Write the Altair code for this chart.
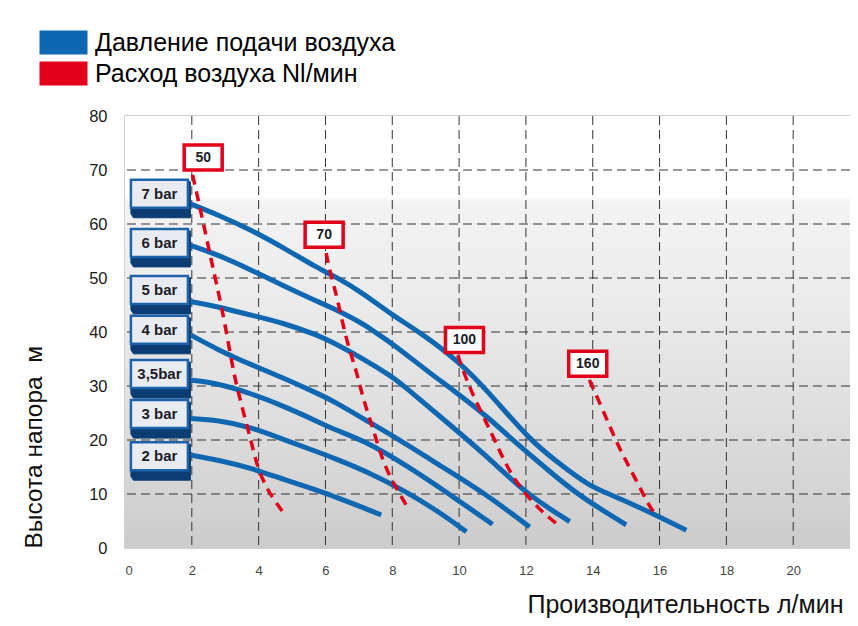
import altair as alt
import pandas as pd

FONT = "Liberation Sans, Arial, sans-serif"
BLUE = "#0f67b1"
RED = "#e2001a"
KIND_P = "Давление подачи воздуха"
KIND_F = "Расход воздуха Nl/мин"

# ---- pressure curves (x: л/мин, y: м) ----
bar7_x = [1.93, 2.78, 3.78, 4.78, 5.77, 6.32, 7.12, 8.0, 8.82, 10.0, 10.91, 12.11, 13.0, 13.91, 14.5, 15.7, 16.8]
bar7_y = [63.8, 61.7, 58.9, 55.5, 51.8, 50.2, 47.2, 43.1, 40.0, 34.5, 28.7, 20.0, 15.6, 11.4, 10.0, 6.7, 3.3]
bar6_x = [1.93, 2.78, 3.78, 4.78, 5.77, 6.12, 7.12, 7.47, 8.0, 9.12, 9.81, 10.91, 11.6, 12.5, 13.5, 15.0]
bar6_y = [56.1, 54.3, 51.5, 48.4, 45.6, 44.7, 41.6, 40.0, 37.9, 32.4, 29.3, 24.0, 20.0, 15.3, 10.0, 4.3]
bar5_x = [1.98, 2.78, 3.78, 4.78, 5.77, 6.21, 7.12, 8.0, 8.31, 9.5, 10.91, 12.01, 13.31]
bar5_y = [45.6, 44.7, 43.1, 41.6, 39.4, 38.1, 35.1, 31.7, 30.2, 24.0, 16.6, 10.0, 4.9]
bar4_x = [1.98, 2.78, 3.78, 4.78, 5.77, 6.27, 7.2, 8.22, 9.5, 10.8, 12.11]
bar4_y = [39.4, 36.7, 33.9, 31.4, 28.6, 27.1, 23.7, 20.0, 15.0, 10.0, 3.9]
bar35_x = [1.93, 2.78, 3.78, 4.78, 5.77, 6.27, 7.2, 8.5, 9.7, 11.0]
bar35_y = [31.1, 30.5, 28.6, 26.2, 23.4, 21.9, 19.8, 15.0, 10.0, 4.4]
bar3_x = [1.93, 2.78, 3.78, 4.78, 5.77, 6.27, 7.3, 8.4, 9.4, 10.22]
bar3_y = [24.0, 23.7, 22.4, 20.0, 17.8, 16.6, 14.0, 10.5, 6.7, 3.0]
bar2_x = [1.98, 2.78, 3.78, 4.78, 5.77, 6.27, 7.0, 7.67]
bar2_y = [17.2, 16.3, 14.8, 12.6, 10.7, 9.5, 7.8, 6.1]

# ---- air flow curves (dashed red) ----
f50_x = [2.02, 2.23, 2.59, 2.77, 2.98, 3.22, 3.37, 3.58, 3.79, 3.97, 4.24, 4.42, 4.72]
f50_y = [69.1, 63.5, 53.0, 48.1, 41.9, 33.5, 29.3, 24.3, 19.4, 14.8, 11.1, 9.3, 6.7]
f70_x = [6.02, 6.12, 6.37, 6.62, 6.92, 7.12, 7.42, 7.67, 7.97, 8.47]
f70_y = [54.6, 51.5, 45.9, 38.5, 33.0, 27.7, 22.2, 16.9, 12.6, 7.4]
f100_x = [9.96, 10.22, 10.6, 11.0, 11.31, 11.71, 12.41, 12.96]
f100_y = [35.7, 31.1, 25.9, 20.9, 16.6, 12.0, 7.0, 4.3]
f160_x = [13.9, 14.3, 14.6, 14.9, 15.3, 15.7, 15.85]
f160_y = [31.1, 25.6, 21.2, 17.2, 12.6, 7.6, 6.5]

# ---- labels ----
bar_labels = ["7 bar", "6 bar", "5 bar", "4 bar", "3,5bar", "3 bar", "2 bar"]
bar_label_x = [1.03, 1.03, 1.03, 1.03, 1.03, 1.03, 1.03]
bar_label_y = [65.6, 56.5, 47.8, 40.4, 32.2, 24.8, 17.0]
flow_labels = ["50", "70", "100", "160"]
flow_label_x = [2.34, 5.96, 10.16, 13.85]
flow_label_y = [72.3, 58.0, 38.5, 34.1]

x_ticks = [0, 2, 4, 6, 8, 10, 12, 14, 16, 18, 20]
y_ticks = [0, 10, 20, 30, 40, 50, 60, 70, 80]
x_grid = [2, 4, 6, 8, 10, 12, 14, 16, 18, 20]
y_grid = [10, 20, 30, 40, 50, 60, 70]
x_domain = [0, 21.7]
y_domain = [0, 80]

pressure = [("7", bar7_x, bar7_y), ("6", bar6_x, bar6_y), ("5", bar5_x, bar5_y),
            ("4", bar4_x, bar4_y), ("3.5", bar35_x, bar35_y), ("3", bar3_x, bar3_y),
            ("2", bar2_x, bar2_y)]
flows = [("50", f50_x, f50_y), ("70", f70_x, f70_y), ("100", f100_x, f100_y),
         ("160", f160_x, f160_y)]

rows = []
for name, xs, ys in pressure:
    for x, y in zip(xs, ys):
        rows.append({"series": "p" + name, "kind": KIND_P, "x": x, "y": y})
pdf = pd.DataFrame(rows)
rows = []
for name, xs, ys in flows:
    for x, y in zip(xs, ys):
        rows.append({"series": "f" + name, "kind": KIND_F, "x": x, "y": y})
fdf = pd.DataFrame(rows)
bl = pd.DataFrame({"label": bar_labels, "x": bar_label_x, "y": bar_label_y})
fl = pd.DataFrame({"label": flow_labels, "x": flow_label_x, "y": flow_label_y})
legend_df = pd.DataFrame({"kind": pd.Series([], dtype=str),
                          "x": pd.Series([], dtype=float), "y": pd.Series([], dtype=float)})
bg_df = pd.DataFrame({"x": [x_domain[0]], "x2": [x_domain[1]], "y": [y_domain[0]], "y2": [y_domain[1]]})
xg_df = pd.DataFrame({"x": x_grid})
yg_df = pd.DataFrame({"y": y_grid})

xscale = alt.Scale(domain=x_domain, nice=False, zero=False)
yscale = alt.Scale(domain=y_domain, nice=False, zero=False)
color_scale = alt.Scale(domain=[KIND_P, KIND_F], range=[BLUE, RED])

x_axis = alt.Axis(values=x_ticks, grid=False, domain=False, ticks=False, labelPadding=16,
                  labelFont="Liberation Sans Narrow, Liberation Sans, Arial", labelFontSize=13,
                  labelColor="#444444", title="Производительность л/мин", titleFont=FONT,
                  titleFontSize=25, titleFontWeight="normal", titleColor="#111111",
                  titleX=718, titleY=56, titleAlign="right", titleBaseline="middle")
y_axis = alt.Axis(values=y_ticks, grid=False, domain=False, ticks=False, labelPadding=18,
                  labelFont=FONT, labelFontSize=16.5, labelColor="#1a1a1a",
                  title="Высота напора\u00a0 м", titleFont=FONT, titleFontSize=24.5,
                  titleFontWeight="normal", titleColor="#111111", titleAngle=270,
                  titleX=-91, titleY=432, titleAlign="left", titleBaseline="middle")

legend_path = "M-24,-12H24V12H-24Z"
legend = alt.Legend(orient="none", legendX=-74, legendY=-86, title=None, padding=0,
                    symbolType=legend_path, symbolSize=4, symbolStrokeWidth=0,
                    symbolOpacity=1, labelFont=FONT, labelFontSize=25,
                    labelColor="#000000", labelOffset=19, rowPadding=5, labelLimit=400)

bg = alt.LinearGradient(gradient="linear", x1=0, x2=0, y1=0, y2=1, stops=[
    alt.GradientStop(color="#ffffff", offset=0),
    alt.GradientStop(color="#ffffff", offset=0.185),
    alt.GradientStop(color="#f3f3f3", offset=0.2),
    alt.GradientStop(color="#eaeaea", offset=0.45),
    alt.GradientStop(color="#dedede", offset=0.7),
    alt.GradientStop(color="#d2d2d2", offset=0.9),
    alt.GradientStop(color="#cbcbcb", offset=1),
])
background = alt.Chart(bg_df).mark_rect(color=bg).encode(
    x=alt.X("x:Q", scale=xscale, axis=x_axis),
    x2="x2:Q",
    y=alt.Y("y:Q", scale=yscale, axis=y_axis),
    y2="y2:Q",
)

enc = dict(x=alt.X("x:Q", scale=xscale), y=alt.Y("y:Q", scale=yscale))

vgrid = alt.Chart(xg_df).mark_rule(color="#333333", strokeWidth=1, strokeDash=[9, 5]).encode(
    x=alt.X("x:Q", scale=xscale))
hgrid = alt.Chart(yg_df).mark_rule(color="#333333", strokeWidth=1, strokeDash=[9, 5]).encode(
    y=alt.Y("y:Q", scale=yscale))

legend_layer = alt.Chart(legend_df).mark_point(shape=legend_path, size=4, filled=True, opacity=1).encode(
    color=alt.Color("kind:N", scale=color_scale, legend=legend),
    **enc,
)

blue_lines = alt.Chart(pdf).mark_line(strokeWidth=5, interpolate="basis", strokeCap="butt").encode(
    color=alt.Color("kind:N", scale=color_scale, legend=None),
    detail="series:N",
    order="x:Q",
    **enc,
)
red_lines = alt.Chart(fdf).mark_line(strokeWidth=3.5, strokeDash=[10, 7], interpolate="basis",
                                     strokeCap="butt").encode(
    color=alt.Color("kind:N", scale=color_scale, legend=None),
    detail="series:N",
    order="x:Q",
    **enc,
)

shadow_path = "M-28.5,-12L31,-12L31,24L-26,24L-28.5,20Z"
face_path = "M-28.5,-14H28.5V14H-28.5Z"
flow_path = "M-19,-12.5H19V12.5H-19Z"

box_shadow = alt.Chart(bl).mark_point(shape=shadow_path, size=4, filled=True, fill="#0c3d72",
                                      stroke="#0c3d72", strokeWidth=1, opacity=1).encode(**enc)
box_face = alt.Chart(bl).mark_point(shape=face_path, size=4, filled=True, fill="#e8ecf1",
                                    stroke="#1d63ab", strokeWidth=2.5, opacity=1).encode(**enc)
box_text = alt.Chart(bl).mark_text(font=FONT, fontSize=15, fontWeight="bold", color="#1c1c28",
                                   baseline="middle", align="center").encode(text="label:N", **enc)
flow_box = alt.Chart(fl).mark_point(shape=flow_path, size=4, filled=True, fill="#ffffff",
                                    stroke=RED, strokeWidth=3.5, opacity=1).encode(**enc)
flow_text = alt.Chart(fl).mark_text(font=FONT, fontSize=14, fontWeight="bold", color="#1c1c28",
                                    baseline="middle", align="center").encode(text="label:N", **enc)

chart = alt.layer(background, vgrid, hgrid, legend_layer, blue_lines, red_lines, box_shadow,
                  box_face, box_text, flow_box, flow_text).properties(
    width=725, height=432,
    autosize=alt.AutoSizeParams(type="none"),
    padding={"left": 117, "top": 108, "right": 0, "bottom": 70},
    background="#ffffff",
).configure_view(stroke="#d0d0d0", strokeWidth=2)

chart.save("out.html", embed_options={"renderer": "svg", "actions": False})
